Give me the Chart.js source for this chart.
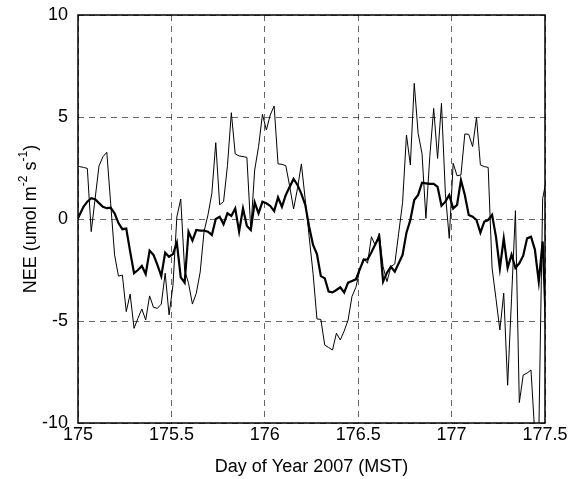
<!DOCTYPE html>
<html>
<head>
<meta charset="utf-8">
<script src="https://cdn.jsdelivr.net/npm/chart.js@4/dist/chart.umd.min.js"></script>
<style>
  html, body { margin: 0; padding: 0; background: #fff; }
  #wrap { width: 580px; height: 479px; position: relative; }
</style>
</head>
<body>
<div id="wrap"><canvas id="c" width="580" height="479"></canvas></div>
<script>
// Half-hourly samples, day of year 2007 (MST)
const firstSampleDay = 174.9875;   // first stored sample, just before the window
const sampleStepDays = 1 / 48;     // 30-minute interval

// Net ecosystem exchange, half-hourly (thin trace)
const neeHalfHourly = [
  2.6, 2.57, 2.53, 2.48, -0.62, 1.0, 2.6, 3.05, 3.27, 0.75,
  -1.76, -2.8, -2.75, -4.54, -3.68, -5.36, -4.87, -4.41, -4.95, -3.77,
  -4.33, -4.38, -4.17, -2.66, -4.7, -3.25, 0.1, 0.98, -2.5, -3.15,
  -4.17, -3.64, -2.6, -0.6, 0.2, 1.26, 3.74, 0.7, 0.85, 2.61,
  5.21, 3.19, 3.09, 3.06, 3.02, -0.54, 2.4, 3.55, 5.13, 4.36,
  5.1, 5.54, 2.7, 2.68, 2.61, 1.6, 0.49, 1.5, 2.7, 0.93,
  -0.87, -2.66, -4.9, -4.92, -6.18, -6.3, -6.42, -5.6, -5.93, -5.49,
  -4.95, -3.8, -3.35, -2.5, -1.93, -2.17, -0.87, -1.3, -0.7, -2.34,
  -3.07, -2.34, -2.2, -0.7, 0.8, 4.12, 2.65, 6.65, 4.2, 3.2,
  0.03, 3.06, 5.42, 2.97, 5.67, 1.26, -0.95, 2.73, 2.12, 2.16,
  4.17, 4.15, 3.55, 4.98, 2.65, 2.57, 2.53, -2.4, -3.9, -5.44,
  -3.64, -8.15, -3.9, 0.41, -9.0, -7.65, -7.55, -7.4, -10.6, -10.6,
  1.0, 2.0
];

// Net ecosystem exchange, bold trace
const neeBold = [
  -0.2, 0.2, 0.6, 0.85, 1.02, 0.97, 0.78, 0.6, 0.53, 0.55,
  0.28, -0.2, -0.5, -0.47, -1.6, -2.66, -2.5, -2.3, -2.7, -1.55,
  -1.76, -2.25, -2.8, -1.65, -1.85, -1.72, -1.16, -2.86, -3.12, -0.62,
  -1.06, -0.54, -0.57, -0.57, -0.62, -0.78, 0.0, 0.11, -0.26, 0.28,
  0.15, 0.52, -0.62, 0.52, -0.34, -0.54, 0.82, 0.28, 0.85, 0.77,
  0.64, 0.39, 1.06, 0.6, 1.18, 1.58, 1.96, 1.67, 1.23, 0.69,
  -0.38, -1.27, -1.72, -2.8, -2.9, -3.56, -3.6, -3.48, -3.35, -3.6,
  -3.12, -3.04, -2.96, -2.47, -2.0, -1.98, -1.63, -1.24, -0.87, -3.07,
  -2.63, -2.34, -2.58, -2.17, -1.76, -0.67, -0.05, 0.93, 1.18, 1.78,
  1.75, 1.72, 1.72, 1.58, 0.65, 0.85, 1.18, 0.52, 0.69, 1.91,
  1.18, 0.2, 0.11, -0.05, -0.67, -0.13, -0.05, 0.2, -0.87, -2.42,
  -0.95, -2.4, -1.75, -2.4, -2.17, -1.8, -0.95, -0.87, -1.5, -3.07,
  -1.1, -6.0
];

// Axis ticks
const xTicks = [175, 175.5, 176, 176.5, 177, 177.5];
const yTicks = [-10, -5, 0, 5, 10];

const sampleDays = neeHalfHourly.map((_, i) => firstSampleDay + i * sampleStepDays);
const toPoints = (vals) => vals.map((v, i) => ({ x: sampleDays[i], y: v }));

const FONT = "'Liberation Sans', Arial, Helvetica, sans-serif";

// Frame around the plotting area plus the axis titles (y title carries superscripts)
const framePlugin = {
  id: 'frameAndTitles',
  afterDraw(chart) {
    const { ctx, chartArea: a } = chart;
    ctx.save();
    ctx.strokeStyle = '#000';
    ctx.lineWidth = 1.5;
    ctx.strokeRect(a.left, a.top, a.right - a.left, a.bottom - a.top);

    ctx.fillStyle = '#000';
    ctx.textBaseline = 'middle';
    ctx.textAlign = 'center';
    ctx.font = '18px ' + FONT;
    ctx.fillText('Day of Year 2007 (MST)', (a.left + a.right) / 2, 467);

    const parts = [
      { t: 'NEE (umol m', sup: false },
      { t: '-2', sup: true },
      { t: ' s', sup: false },
      { t: '-1', sup: true },
      { t: ')', sup: false }
    ];
    const normalFont = '18px ' + FONT;
    const supFont = '12px ' + FONT;
    let total = 0;
    parts.forEach(p => { ctx.font = p.sup ? supFont : normalFont; p.w = ctx.measureText(p.t).width; total += p.w; });
    ctx.translate(31, (a.top + a.bottom) / 2);
    ctx.rotate(-Math.PI / 2);
    ctx.textAlign = 'left';
    let x = -total / 2;
    parts.forEach(p => {
      ctx.font = p.sup ? supFont : normalFont;
      ctx.fillText(p.t, x, p.sup ? -7 : 0);
      x += p.w;
    });
    ctx.restore();
  }
};

const gridColor = 'rgba(0,0,0,0.6)';

new Chart(document.getElementById('c'), {
  type: 'line',
  data: {
    datasets: [
      {
        label: 'NEE half-hourly',
        data: toPoints(neeHalfHourly),
        borderColor: '#000',
        borderWidth: 1,
        pointRadius: 0,
        tension: 0,
        clip: 0
      },
      {
        label: 'NEE bold',
        data: toPoints(neeBold),
        borderColor: '#000',
        borderWidth: 2.2,
        pointRadius: 0,
        tension: 0,
        clip: 0
      }
    ]
  },
  options: {
    responsive: false,
    animation: false,
    events: [],
    layout: { padding: { top: 15, right: 35, left: 0, bottom: 0 } },
    plugins: { legend: { display: false }, tooltip: { enabled: false } },
    scales: {
      x: {
        type: 'linear',
        min: 175,
        max: 177.5,
        afterBuildTicks: (s) => { s.ticks = xTicks.map(v => ({ value: v })); },
        afterFit: (s) => { s.height = 56; },
        ticks: {
          font: { family: FONT, size: 18 },
          color: '#000',
          padding: 1,
          maxRotation: 0,
          autoSkip: false,
          callback: (v) => String(v)
        },
        grid: { color: gridColor, lineWidth: 1, drawTicks: false },
        border: { display: false, dash: [6, 5] }
      },
      y: {
        min: -10,
        max: 10,
        afterBuildTicks: (s) => { s.ticks = yTicks.map(v => ({ value: v })); },
        afterFit: (s) => { s.width = 78; s.paddingTop = 0; s.paddingBottom = 0; },
        ticks: {
          font: { family: FONT, size: 18 },
          color: '#000',
          padding: 10,
          callback: (v) => String(v)
        },
        grid: { color: gridColor, lineWidth: 1, drawTicks: false },
        border: { display: false, dash: [6, 5] }
      }
    }
  },
  plugins: [framePlugin]
});
</script>
</body>
</html>
